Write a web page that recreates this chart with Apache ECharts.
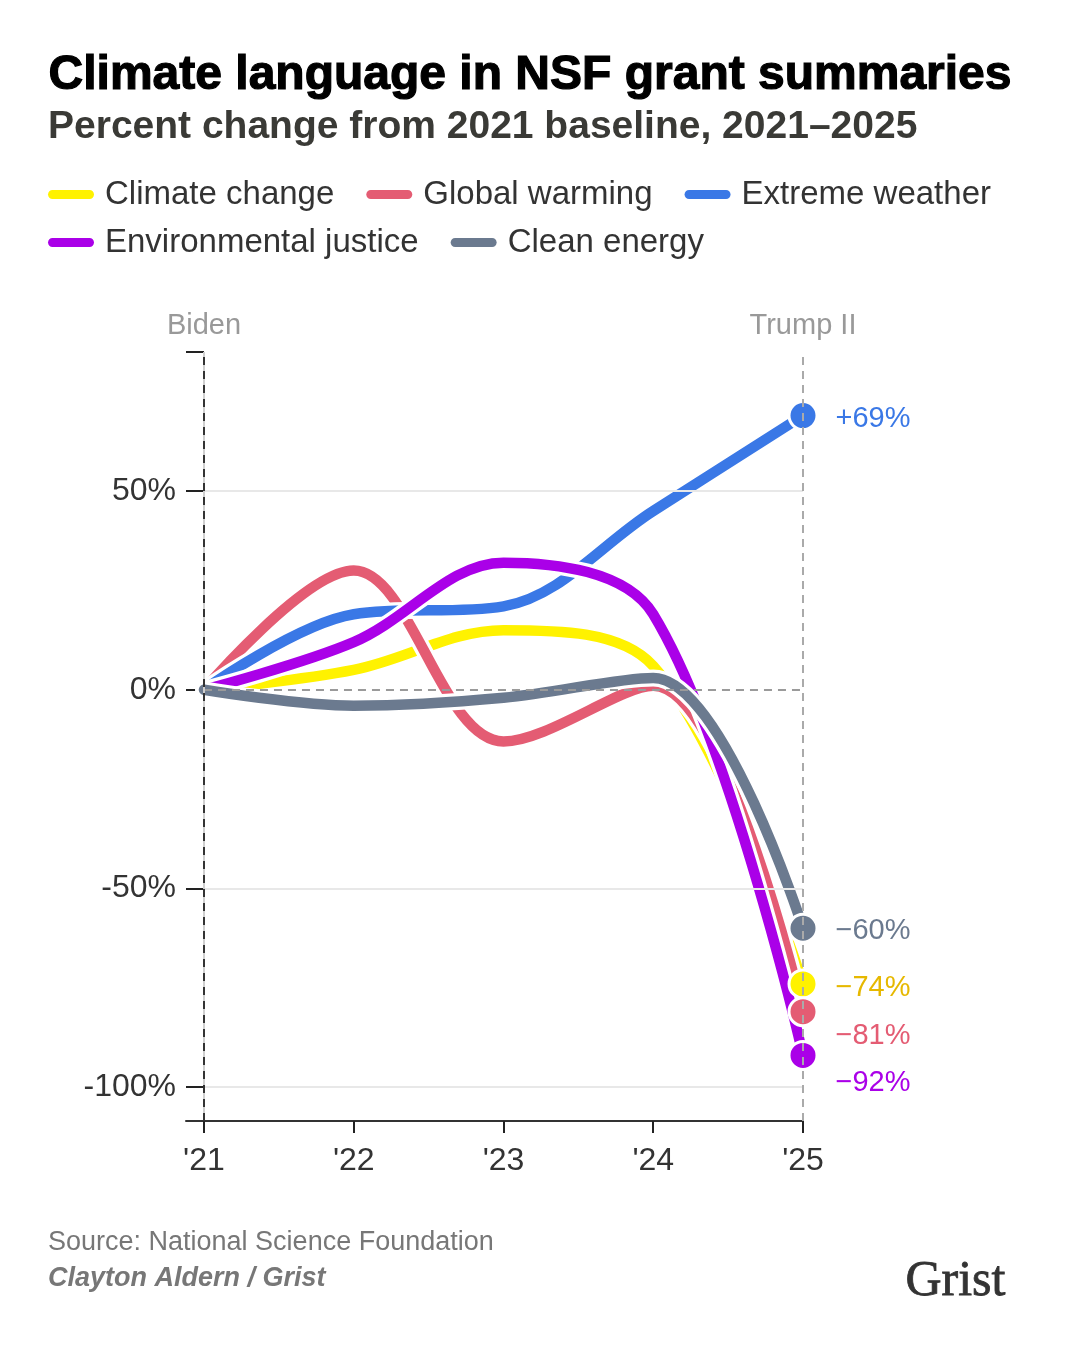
<!DOCTYPE html>
<html>
<head>
<meta charset="utf-8">
<script src="https://cdn.jsdelivr.net/npm/echarts@6/dist/echarts.min.js"></script>
<style>
html, body { margin: 0; padding: 0; background: #fff; }
#chart { width: 1080px; height: 1350px; }
</style>
</head>
<body>
<div id="chart"></div>
<script>
// data
const years = [2021, 2022, 2023, 2024, 2025];
const yearLabels = ["'21", "'22", "'23", "'24", "'25"];
const climateChange = [0, 5, 15, 6, -74];
const globalWarming = [0, 30, -13, 1, -81];
const extremeWeather = [0, 19, 21, 45, 69];
const environmentalJustice = [0, 12, 32, 19, -92];
const cleanEnergy = [0, -4, -2, 3, -60];
const yTicks = [50, 0, -50, -100];
const gridValues = [50, -50, -100];
const eras = ['Biden', 'Trump II'];

const yMin = -108.5;
const yMax = 85;

const lines = [
    {name: 'Climate change', values: climateChange, color: '#fff200', labelColor: '#e6b800', dy: 4},
    {name: 'Global warming', values: globalWarming, color: '#e45c73', labelColor: '#e45c73', dy: 24},
    {name: 'Extreme weather', values: extremeWeather, color: '#3a78e6', labelColor: '#3a78e6', dy: 3},
    {name: 'Environmental justice', values: environmentalJustice, color: '#aa00e8', labelColor: '#aa00e8', dy: 28},
    {name: 'Clean energy', values: cleanEnergy, color: '#6b7a8f', labelColor: '#6b7a8f', dy: 3}
];

const fontFamily = '"Liberation Sans", Arial, sans-serif';
const SMOOTH = 0.35;

function fmtPct(v) {
    return (v > 0 ? '+' : '\u2212') + Math.abs(v) + '%';
}

const first = years[0];
const last = years[years.length - 1];

// grid lines, zero line and era markers live on a helper series
let helper = {
    type: 'line',
    name: 'helper',
    data: [],
    silent: true,
    z: 1,
    markLine: {
        silent: true,
        symbol: ['none', 'none'],
        animation: false,
        label: {show: false},
        data: [].concat(
            gridValues.map(v => [
                {coord: [first, v], lineStyle: {color: '#e8e8e8', width: 2, type: 'solid'}},
                {coord: [last, v]}
            ]),
            [[
                {coord: [first, 0], lineStyle: {color: '#9a9a9a', width: 2, type: [8, 6]}},
                {coord: [last, 0]}
            ]],
            [
                {xAxis: first, lineStyle: {color: '#cfcfcf', width: 2, type: 'solid'}},
                {
                    xAxis: first,
                    lineStyle: {color: '#333', width: 2, type: [8, 6]},
                    label: {show: true, position: 'end', formatter: eras[0], color: '#999',
                        fontSize: 29, fontFamily: fontFamily, distance: 12}
                },
                {
                    xAxis: last,
                    lineStyle: {color: '#aaa', width: 2, type: [8, 6]},
                    label: {show: true, position: 'end', formatter: eras[1], color: '#999',
                        fontSize: 29, fontFamily: fontFamily, distance: 12}
                }
            ]
        )
    }
};

let series = [helper];
lines.forEach(line => {
    let pairs = years.map((y, i) => [y, line.values[i]]);
    // white casing under each line
    series.push({
        type: 'line',
        name: line.name + ' casing',
        data: pairs,
        smooth: SMOOTH,
        symbol: 'none',
        silent: true,
        z: 3,
        lineStyle: {color: '#fff', width: 17, cap: 'round', join: 'round'},
        emphasis: {disabled: true}
    });
    series.push({
        type: 'line',
        name: line.name,
        color: line.color,
        smooth: SMOOTH,
        symbol: 'none',
        showSymbol: true,
        z: 3,
        lineStyle: {color: line.color, width: 10.5, cap: 'round', join: 'round'},
        itemStyle: {color: line.color},
        emphasis: {disabled: true},
        data: pairs.map((p, i) => {
            if (i !== pairs.length - 1) {
                return {value: p};
            }
            return {
                value: p,
                symbol: 'circle',
                symbolSize: 28,
                itemStyle: {color: line.color, borderColor: '#fff', borderWidth: 3},
                label: {
                    show: true,
                    position: 'right',
                    distance: 17,
                    offset: [0, line.dy],
                    formatter: fmtPct(p[1]),
                    color: line.labelColor,
                    fontSize: 29,
                    fontFamily: fontFamily
                }
            };
        })
    });
});

const legendIcon = 'path://M4.5,0 L41.5,0 C44,0 46,2 46,4.5 C46,7 44,9 41.5,9 L4.5,9 C2,9 0,7 0,4.5 C0,2 2,0 4.5,0 Z';
function makeLegend(names, top) {
    return {
        data: names,
        left: 48,
        top: top,
        padding: 0,
        orient: 'horizontal',
        icon: legendIcon,
        symbolKeepAspect: false,
        itemWidth: 46,
        itemHeight: 9,
        itemGap: 32,
        selectedMode: false,
        textStyle: {fontSize: 33, color: '#333', fontFamily: fontFamily, padding: [0, 0, 0, 6]}
    };
}

let option = {
    animation: false,
    backgroundColor: '#fff',
    legend: [
        makeLegend(lines.slice(0, 3).map(l => l.name), 178),
        makeLegend(lines.slice(3).map(l => l.name), 226)
    ],
    grid: {left: 186, right: 277, top: 352, bottom: 229, outerBoundsMode: 'none'},
    xAxis: {
        type: 'value',
        min: 2020.88,
        max: last,
        axisLine: {show: true, onZero: false, lineStyle: {color: '#333', width: 2}},
        axisTick: {show: true, customValues: years, length: 12, lineStyle: {color: '#222', width: 2}},
        axisLabel: {
            customValues: years,
            formatter: v => yearLabels[years.indexOf(v)],
            fontSize: 32,
            color: '#333',
            fontFamily: fontFamily,
            margin: 24
        },
        splitLine: {show: false}
    },
    yAxis: {
        type: 'value',
        min: yMin,
        max: yMax,
        axisLine: {show: false},
        axisTick: {
            show: true,
            inside: true,
            length: 18,
            customValues: [yMax].concat(yTicks),
            lineStyle: {color: '#222', width: 2}
        },
        axisLabel: {
            customValues: yTicks,
            formatter: v => v + '%',
            fontSize: 32,
            color: '#333',
            fontFamily: fontFamily,
            margin: 10
        },
        splitLine: {show: false}
    },
    graphic: [
        {type: 'text', left: 48, top: 51, style: {text: 'Climate language in NSF grant summaries',
            fontSize: 48, fontWeight: 'bold', fill: '#000', stroke: '#000', lineWidth: 1.2, fontFamily: fontFamily}},
        {type: 'text', left: 48, top: 108, style: {text: 'Percent change from 2021 baseline, 2021\u20132025',
            fontSize: 39, fontWeight: 'bold', fill: '#3a3a36', fontFamily: fontFamily}},
        {type: 'text', left: 48, top: 1229, style: {text: 'Source: National Science Foundation',
            fontSize: 27, fill: '#777', fontFamily: fontFamily}},
        {type: 'text', left: 48, top: 1265, style: {text: 'Clayton Aldern / Grist',
            fontSize: 27, fontWeight: 'bold', fontStyle: 'italic', fill: '#777', fontFamily: fontFamily}},
        {type: 'text', left: 905, top: 1256, style: {text: 'Grist',
            fontSize: 50, fill: '#333', stroke: '#333', lineWidth: 0.8,
            fontFamily: '"Liberation Serif", "DejaVu Serif", serif'}}
    ],
    series: series
};

let chart = echarts.init(document.getElementById('chart'));
chart.setOption(option);
</script>
</body>
</html>
